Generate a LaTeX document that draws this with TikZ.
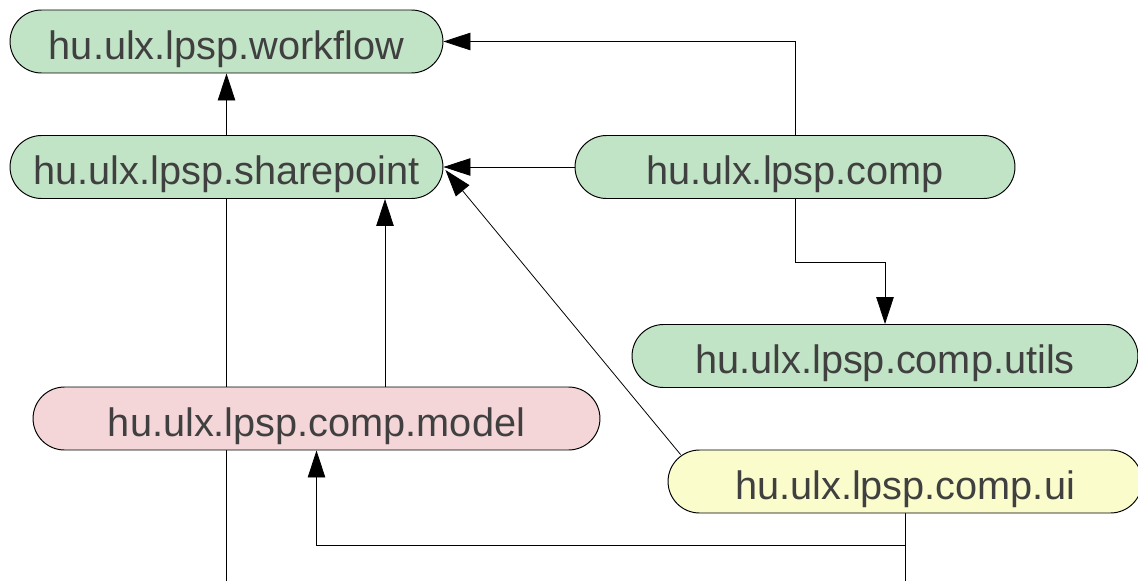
\documentclass[tikz,border=0pt]{standalone}
\usepackage{fontspec}
\setmainfont{Liberation Sans}
\usetikzlibrary{arrows.meta,backgrounds,calc}
\definecolor{pkggreen}{HTML}{C2E4C6}
\definecolor{pkgpink}{HTML}{F4D6D8}
\definecolor{pkgyellow}{HTML}{FAFCCC}
\definecolor{pkgtext}{HTML}{404040}

\begin{document}
\begin{tikzpicture}[x=0.02cm,y=-0.02cm,
  pkg/.style={draw=black, line width=0.55pt, rounded corners=0.63cm,
    minimum height=1.26cm, inner sep=0pt, text height=0.71cm, text depth=0pt,
    font=\fontsize{22.6}{27}\selectfont, text=pkgtext},
  dep/.style={draw=black, line width=0.45pt, -{Triangle[length=0.54cm,width=0.35cm]}},
  link/.style={draw=black, line width=0.45pt}]

\useasboundingbox (0,0) rectangle (1138,581);
\clip (0,0) rectangle (1138,581);

% packages
\node[pkg, fill=pkggreen,  minimum width=8.66cm]  (wf)    at (226.5,41.5)  {hu.ulx.lpsp.workflow};
\node[pkg, fill=pkggreen,  minimum width=8.66cm]  (sp)    at (226.5,167)   {hu.ulx.lpsp.sharepoint};
\node[pkg, fill=pkggreen,  minimum width=8.8cm]   (comp)  at (795,167)     {hu.ulx.lpsp.comp};
\node[pkg, fill=pkggreen,  minimum width=10.12cm] (utils) at (885,356)     {hu.ulx.lpsp.comp.utils};
\node[pkg, fill=pkgpink,   minimum width=11.34cm] (model) at (316.5,418.5) {hu.ulx.lpsp.comp.model};
\node[pkg, fill=pkgyellow, minimum width=9.48cm]  (ui)    at (905,481.5)   {hu.ulx.lpsp.comp.ui};

% dependencies, kept beneath the packages
\begin{pgfonlayer}{background}
  \draw[dep] (sp.north) -- (wf.south);
  \draw[dep] (comp.north) |- (wf.east);
  \draw[dep] (comp.west) -- (sp.east);
  \draw[dep] (comp.south) -- ++(0,63) -| (utils.north);

  \coordinate (mdA) at ($(model.north)+(68.5,0)$);
  \draw[dep] (mdA) -- (mdA |- sp.south);

  \coordinate (spOut) at (226.5,581);
  \draw[link] (sp.south) -- (spOut);

  \coordinate (uiA) at ($(ui.north west)+(13,5)$);
  \coordinate (spIn) at ($(sp.east)+(2,3)$);
  \draw[dep] (uiA) -- (spIn);

  \draw[dep] (ui.south) -- ++(0,32) -| (model.south);

  \coordinate (uiOut) at (905,581);
  \draw[link] (ui.south) -- (uiOut);
\end{pgfonlayer}
\end{tikzpicture}
\end{document}
